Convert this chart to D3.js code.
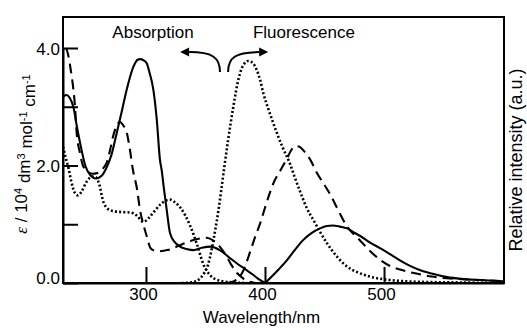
<!DOCTYPE html>
<meta charset="utf-8">
<style>
body {
    margin: 0;
    background: white;
}

svg text {
    font-family: "Liberation Sans", Arial, Helvetica, sans-serif;
    font-size: 17px;
    fill: #000;
}

.axis path,
.axis line {
    fill: none;
    stroke: #000;
    stroke-width: 2px;
}

.frame {
    fill: none;
    stroke: #000;
    stroke-width: 2px;
}

.curve {
    fill: none;
    stroke: #000;
    stroke-width: 2.1px;
}

.curve.dot {
    stroke-width: 2.6px;
}
</style>

<body>
    <script src="https://d3js.org/d3.v7.min.js"></script>
    <script>
    // absorption spectra [wavelength nm, epsilon / 10^4]
    var solidAbs = [
        [230.3, 3.17], [233, 3.2], [236, 3.15], [239, 3.0], [242, 2.66], [245, 2.35],
        [249, 2.0], [253, 1.84], [258, 1.78], [263, 1.83], [267, 1.97], [271, 2.18],
        [275.4, 2.55], [280, 2.95], [283.8, 3.29], [289.4, 3.68], [293, 3.8], [295, 3.81],
        [298, 3.79], [300.6, 3.74], [303, 3.58], [306.2, 3.29], [309, 2.8], [311.8, 2.09],
        [313.2, 1.92], [315, 1.62], [317.4, 1.25], [320.2, 0.85], [324, 0.7], [328.6, 0.62],
        [334, 0.58], [340, 0.56], [347, 0.6], [354, 0.62], [362, 0.56], [369, 0.45],
        [376, 0.34], [383, 0.24], [390, 0.14], [395, 0.06], [400, 0.0]
    ];
    var dashAbs = [
        [233, 4.0], [235, 3.85], [237, 3.6], [239, 3.3], [240.4, 3.0], [241.8, 2.55],
        [244.6, 2.21], [247, 2.0], [251, 1.9], [255, 1.86], [259, 1.87], [263, 1.93],
        [267, 2.05], [269.8, 2.26], [272.3, 2.49], [275, 2.66], [278, 2.74], [281, 2.68],
        [284, 2.55], [286.6, 2.26], [289.1, 1.92], [292.5, 1.6], [295, 1.24], [297.5, 1.02],
        [300.9, 0.78], [303.4, 0.61], [306, 0.56], [310, 0.54], [318, 0.56], [326, 0.62],
        [334, 0.69], [340, 0.73], [346, 0.76], [351, 0.77], [356, 0.73], [362, 0.62],
        [367, 0.48], [372, 0.3], [376.5, 0.17], [381.6, 0.08], [386, 0.03], [392, 0.0]
    ];
    var dotAbs = [
        [230.3, 2.32], [233, 2.1], [235, 1.95], [237, 1.75], [240.4, 1.53], [243, 1.49],
        [246, 1.56], [250, 1.72], [255, 1.81], [258, 1.8], [261, 1.66], [264.2, 1.38],
        [269.8, 1.24], [278, 1.21], [286.6, 1.2], [292.2, 1.15], [297.8, 1.04], [302, 1.1],
        [306.2, 1.2], [311.8, 1.33], [317.4, 1.41], [320.2, 1.42], [324, 1.38], [329, 1.28],
        [333, 1.15], [337, 0.98], [343, 0.65], [348, 0.33], [354, 0.13], [362, 0.04],
        [373, 0.01], [385, 0.0]
    ];

    // fluorescence spectra [wavelength nm, relative intensity]
    var solidFl = [
        [400, 0.0], [404.2, 0.08], [410, 0.2], [418.5, 0.39], [425, 0.56], [432, 0.73],
        [439, 0.85], [446.3, 0.93], [452, 0.97], [457, 0.98], [463, 0.96], [469, 0.93],
        [474, 0.87], [480, 0.8], [488, 0.69], [497, 0.59], [505, 0.49], [513, 0.39],
        [521, 0.3], [530, 0.22], [540, 0.16], [553, 0.1], [565, 0.07], [581, 0.05], [600, 0.03]
    ];
    var dashFl = [
        [368, 0.0], [374, 0.03], [378, 0.09], [382, 0.22], [385, 0.38], [388, 0.56],
        [392, 0.8], [396, 1.02], [400, 1.28], [404, 1.53], [408, 1.74], [413, 1.92],
        [418.5, 2.12], [422, 2.26], [425.3, 2.33], [429, 2.32], [433, 2.24], [438, 2.1],
        [444, 1.86], [449, 1.7], [455, 1.5], [462, 1.22], [469, 0.96], [475, 0.82],
        [480, 0.72], [488, 0.55], [497, 0.39], [505, 0.29], [515, 0.22], [525, 0.17],
        [540, 0.11], [553, 0.08], [570, 0.06], [581, 0.05], [600, 0.03]
    ];
    var dotFl = [
        [330, 0.0], [338, 0.01], [343, 0.04], [346, 0.09], [349, 0.17], [352, 0.3],
        [355, 0.55], [358, 0.88], [361, 1.25], [363.5, 1.62], [366, 2.0], [369, 2.43],
        [373.4, 3.0], [377.6, 3.46], [381.8, 3.71], [386, 3.78], [390, 3.74], [393, 3.63],
        [396, 3.45], [398.6, 3.23], [403, 2.95], [407, 2.72], [411, 2.5], [415, 2.3],
        [421, 2.03], [425, 1.8], [430, 1.53], [435, 1.28], [441, 1.06], [446, 0.88],
        [452, 0.68], [460, 0.46], [469, 0.28], [478, 0.18], [488, 0.11], [505, 0.05],
        [530, 0.02], [560, 0.01], [600, 0.0]
    ];

    // tick values and labels
    var xTicks = [300, 400, 500];
    var yTicks = [0, 1, 2, 3, 4];
    var yLabels = { 0: "0.0", 2: "2.0", 4: "4.0" };

    var series = [
        { data: dotAbs, style: "dot" },
        { data: dashAbs, style: "dash" },
        { data: solidAbs, style: "solid" },
        { data: dotFl, style: "dot" },
        { data: dashFl, style: "dash" },
        { data: solidFl, style: "solid" }
    ];
    var dashes = { dot: "2,2.2", dash: "10,6", solid: null };

    // setting up canvas size
    var W = 527, H = 328;
    var margin = { top: 17, right: 23, bottom: 45, left: 63 };

    // setting up scales
    var x = d3.scaleLinear()
        .domain([230.3, 600.8])
        .range([margin.left, W - margin.right]);

    var y = d3.scaleLinear()
        .domain([0, 4])
        .range([H - margin.bottom, 48]);

    var svg = d3.select("body")
        .append("svg")
        .attr("width", W)
        .attr("height", H);

    // clip the curves to the plot box
    svg.append("clipPath")
        .attr("id", "plot")
        .append("rect")
        .attr("x", x.range()[0])
        .attr("y", margin.top)
        .attr("width", x.range()[1] - x.range()[0])
        .attr("height", y(0) - margin.top);

    var line = d3.line()
        .x(function(d) { return x(d[0]); })
        .y(function(d) { return y(d[1]); })
        .curve(d3.curveMonotoneX);

    svg.append("g")
        .attr("clip-path", "url(#plot)")
        .selectAll(".curve")
        .data(series)
        .enter()
        .append("path")
        .attr("class", function(d) { return "curve " + d.style; })
        .attr("stroke-dasharray", function(d) { return dashes[d.style]; })
        .attr("d", function(d) { return line(d.data); });

    // frame (top and right edges)
    svg.append("rect")
        .attr("class", "frame")
        .attr("x", x.range()[0])
        .attr("y", margin.top)
        .attr("width", x.range()[1] - x.range()[0])
        .attr("height", y(0) - margin.top);

    // setting up x axis (ticks point inward)
    svg.append("g")
        .attr("class", "x axis")
        .attr("transform", "translate(0," + y(0) + ")")
        .call(d3.axisBottom(x).tickValues(xTicks).tickSize(-16).tickSizeOuter(0).tickPadding(5))
        .call(function(g) {
            g.selectAll("text")
                .attr("font-size", null)
                .attr("font-family", null)
                .attr("dx", "-3");
        });

    // setting up y axis
    svg.append("g")
        .attr("class", "y axis")
        .attr("transform", "translate(" + x.range()[0] + ",0)")
        .call(d3.axisLeft(y).tickValues(yTicks).tickSize(-15).tickSizeOuter(0).tickPadding(3)
            .tickFormat(function(d) { return yLabels[d] || ""; }))
        .call(function(g) {
            g.selectAll("text")
                .attr("font-size", null)
                .attr("font-family", null)
                .attr("dy", function(d) { return d === 0 ? "0.05em" : "0.38em"; });
        });

    // axis titles
    svg.append("text")
        .attr("x", (x.range()[0] + x.range()[1]) / 2 - 22)
        .attr("y", 323)
        .attr("text-anchor", "middle")
        .text("Wavelength/nm");

    var yTitle = svg.append("text")
        .attr("transform", "translate(27,154) rotate(-90)")
        .attr("text-anchor", "middle");
    yTitle.append("tspan")
        .style("font-family", "'Liberation Serif', 'Times New Roman', serif")
        .style("font-style", "italic")
        .text("\u03b5");
    yTitle.append("tspan").text(" / 10");
    yTitle.append("tspan").attr("dy", "-0.45em").style("font-size", "11px").text("4");
    yTitle.append("tspan").attr("dy", "0.45em").text(" dm");
    yTitle.append("tspan").attr("dy", "-0.45em").style("font-size", "11px").text("3");
    yTitle.append("tspan").attr("dy", "0.45em").text(" mol");
    yTitle.append("tspan").attr("dy", "-0.45em").style("font-size", "11px").text("-1");
    yTitle.append("tspan").attr("dy", "0.45em").text(" cm");
    yTitle.append("tspan").attr("dy", "-0.45em").style("font-size", "11px").text("-1");

    svg.append("text")
        .attr("transform", "translate(522,160) rotate(-90)")
        .attr("text-anchor", "middle")
        .style("font-size", "18px")
        .text("Relative intensity (a.u.)");

    // annotations: labels and arrows, placed in data units
    var notes = [
        { text: "Absorption", at: [305.9, 4.17] },
        { text: "Fluorescence", at: [432.7, 4.17] }
    ];
    svg.selectAll(".note")
        .data(notes)
        .enter()
        .append("text")
        .attr("class", "note")
        .attr("x", function(d) { return x(d.at[0]); })
        .attr("y", function(d) { return y(d.at[1]); })
        .attr("text-anchor", "middle")
        .text(function(d) { return d.text; });

    var arrows = [
        { from: [362.2, 3.59], to: [328.7, 3.93] },
        { from: [369.0, 3.59], to: [402.7, 3.93] }
    ];
    arrows.forEach(function(a) {
        var x0 = x(a.from[0]), y0 = y(a.from[1]);
        var x1 = x(a.to[0]), y1 = y(a.to[1]);
        var s = x1 < x0 ? -1 : 1;
        var hx = x1 - s * 9;
        svg.append("path")
            .attr("d", "M" + x0 + "," + y0 +
                " C" + x0 + "," + (y1 + 5) + " " + (x0 + s * 8) + "," + y1 + " " + hx + "," + y1)
            .attr("fill", "none")
            .attr("stroke", "#000")
            .attr("stroke-width", 2);
        svg.append("path")
            .attr("d", "M" + x1 + "," + y1 + " L" + hx + "," + (y1 - 4.5) + " L" + hx + "," + (y1 + 4.5) + "Z")
            .attr("fill", "#000");
    });
    </script>
</body>
